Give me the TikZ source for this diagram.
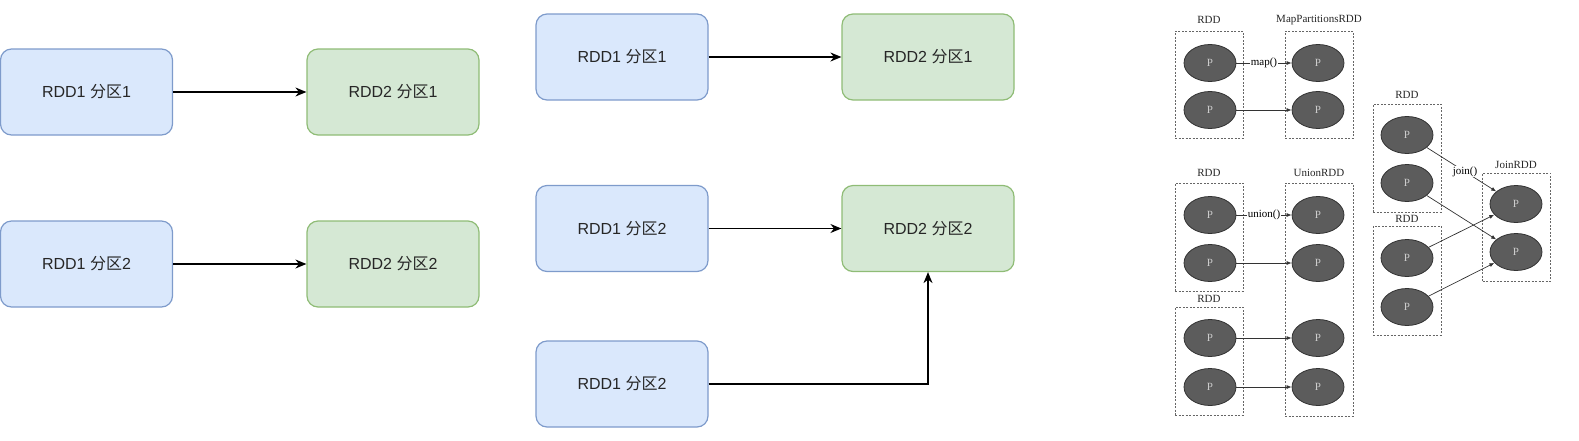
\documentclass[tikz,border=0pt]{standalone}
\usepackage{fontspec}
\setmainfont{Liberation Serif}
\setsansfont{Liberation Sans}
\newfontfamily\cjk{Noto Sans CJK SC}
\usetikzlibrary{
  arrows.meta,
  shapes.geometric
}
\definecolor{bluefill}{HTML}{DAE8FC}
\definecolor{blueline}{HTML}{7E9BCB}
\definecolor{greenfill}{HTML}{D5E8D4}
\definecolor{greenline}{HTML}{8FBC76}
\definecolor{partfill}{HTML}{5C5C5C}
\definecolor{partline}{HTML}{333333}
\tikzset{
  part box/.style={
    draw, rounded corners=11pt, line width=1.2pt,
    minimum width=172pt, minimum height=86pt,
    font=\sffamily\fontsize{16}{18}\selectfont, text=black!85
  },
  src part/.style={part box, fill=bluefill, draw=blueline},
  dst part/.style={part box, fill=greenfill, draw=greenline},
  dep arrow/.style={
    -{Stealth[length=11pt,width=9pt]}, line width=1.4pt
  },
  rdd frame/.style={
    draw=gray!80!black, dash pattern=on 2pt off 1.5pt, line width=0.8pt,
    minimum width=68pt
  },
  rdd title/.style={
    font=\fontsize{11}{12}\selectfont, text=black!85
  },
  partition/.style={
    ellipse, draw=partline, fill=partfill, line width=0.8pt,
    minimum width=52pt, minimum height=37pt, inner sep=0pt,
    text=gray!40, font=\fontsize{11}{12}\selectfont
  },
  op arrow/.style={
    -{Latex[length=5pt,width=4pt]}, line width=0.7pt, draw=black!80
  },
  op label/.style={
    fill=white, inner sep=0.5pt, font=\fontsize{11}{12}\selectfont
  }
}
\newcommand{\fq}{{\cjk 分区}}

\begin{document}
\begin{tikzpicture}[x=1pt, y=-1pt]
  \useasboundingbox (0,0) rectangle (1579,440);

  % narrow dependencies
  \node[src part] (a1) at (86.5,92) {RDD1 \fq1};
  \node[dst part] (b1) at (393,92) {RDD2 \fq1};
  \node[src part] (a2) at (86.5,264) {RDD1 \fq2};
  \node[dst part] (b2) at (393,264) {RDD2 \fq2};
  \draw[dep arrow] (a1) -- (b1);
  \draw[dep arrow] (a2) -- (b2);

  \node[src part] (m1) at (622,57) {RDD1 \fq1};
  \node[dst part] (n1) at (928,57) {RDD2 \fq1};
  \node[src part] (m2) at (622,228.5) {RDD1 \fq2};
  \node[dst part] (n2) at (928,228.5) {RDD2 \fq2};
  \node[src part] (m3) at (622,384) {RDD1 \fq2};
  \draw[dep arrow] (m1) -- (n1);
  \draw[dep arrow] (m2) -- (n2);
  \draw[dep arrow] (m3.east) -| (n2.south);

  % map
  \node[rdd frame, minimum height=107pt] (mapin) at (1209,84.5) {};
  \node[rdd frame, minimum height=107pt] (mapout) at (1319,84.5) {};
  \node[rdd title] (mapintitle) at (1209,20) {RDD};
  \node[rdd title] (mapouttitle) at (1319,20) {MapPartitionsRDD};
  \node[partition] (mp1) at (1210,63) {P};
  \node[partition] (mp2) at (1210,110) {P};
  \node[partition] (mq1) at (1318,63) {P};
  \node[partition] (mq2) at (1318,110) {P};
  \draw[op arrow] (mp1) -- node[op label] {map()} (mq1);
  \draw[op arrow] (mp2) -- (mq2);

  % union
  \node[rdd frame, minimum height=108pt] (unina) at (1209,237) {};
  \node[rdd frame, minimum height=108pt] (uninb) at (1209,361) {};
  \node[rdd frame, minimum height=233pt] (unout) at (1319,299.5) {};
  \node[rdd title] (uninatitle) at (1209,173) {RDD};
  \node[rdd title] (uninbtitle) at (1209,299) {RDD};
  \node[rdd title] (unouttitle) at (1319,173) {UnionRDD};
  \node[partition] (up1) at (1210,215) {P};
  \node[partition] (up2) at (1210,263) {P};
  \node[partition] (up3) at (1210,338) {P};
  \node[partition] (up4) at (1210,387) {P};
  \node[partition] (uq1) at (1318,215) {P};
  \node[partition] (uq2) at (1318,263) {P};
  \node[partition] (uq3) at (1318,338) {P};
  \node[partition] (uq4) at (1318,387) {P};
  \draw[op arrow] (up1) -- node[op label] {union()} (uq1);
  \draw[op arrow] (up2) -- (uq2);
  \draw[op arrow] (up3) -- (uq3);
  \draw[op arrow] (up4) -- (uq4);

  % join
  \node[rdd frame, minimum height=108pt] (joina) at (1407,158) {};
  \node[rdd frame, minimum height=109pt] (joinb) at (1407,280.5) {};
  \node[rdd frame, minimum height=108pt] (joinout) at (1516.5,227) {};
  \node[rdd title] (joinatitle) at (1407,95) {RDD};
  \node[rdd title] (joinbtitle) at (1407,219) {RDD};
  \node[rdd title] (joinouttitle) at (1516,165) {JoinRDD};
  \node[partition] (jp1) at (1407,135) {P};
  \node[partition] (jp2) at (1407,183) {P};
  \node[partition] (jp3) at (1407,258) {P};
  \node[partition] (jp4) at (1407,307) {P};
  \node[partition] (jq1) at (1516,204) {P};
  \node[partition] (jq2) at (1516,252) {P};
  \draw[op arrow] (jp1) -- node[op label, pos=0.55] {join()} (jq1);
  \draw[op arrow] (jp2) -- (jq2);
  \draw[op arrow] (jp3) -- (jq1);
  \draw[op arrow] (jp4) -- (jq2);
\end{tikzpicture}
\end{document}
